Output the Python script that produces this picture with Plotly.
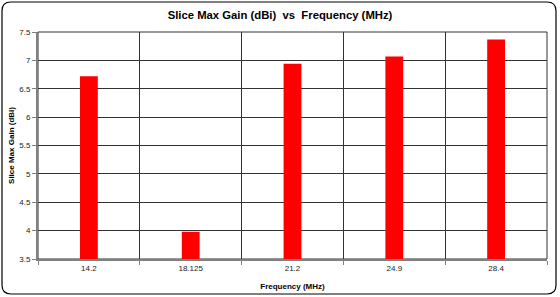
import plotly.graph_objects as go

categories = ["14.2", "18.125", "21.2", "24.9", "28.4"]
gain_dbi = [6.72, 3.98, 6.94, 7.07, 7.37]
y_ticks = [3.5, 4, 4.5, 5, 5.5, 6, 6.5, 7, 7.5]

fig = go.Figure()
fig.add_trace(go.Bar(x=categories, y=gain_dbi, marker=dict(color="#FF0000", line=dict(width=0))))

# plot area in pixels: x 38..547, y 32..259
L, R, T, B = 38, 13, 32, 38
W, H = 560, 297
pw, ph = W - L - R, H - T - B
def px(x): return (x - L) / pw
def py(y): return (H - B - y) / ph
x0, x1, y0, y1 = px(2), px(556), py(294), py(2)
rx, ry = 9 / pw, 9 / ph
path = (f"M {x0+rx},{y1} L {x1-rx},{y1} Q {x1},{y1} {x1},{y1-ry} "
        f"L {x1},{y0+ry} Q {x1},{y0} {x1-rx},{y0} L {x0+rx},{y0} "
        f"Q {x0},{y0} {x0},{y0+ry} L {x0},{y1-ry} Q {x0},{y1} {x0+rx},{y1} Z")

fig.update_layout(
    width=W, height=H,
    margin=dict(l=L, r=R, t=T, b=B),
    paper_bgcolor="white", plot_bgcolor="white",
    showlegend=False,
    bargap=0.825,
    font=dict(family="Arial, Liberation Sans", size=8, color="#222222"),
    title=dict(text="<b>Slice Max Gain (dBi)  vs  Frequency (MHz)</b>", x=0.5, xanchor="center",
               y=1 - 15 / H, yanchor="middle", font=dict(size=11.3, color="black")),
    shapes=[
        dict(type="path", xref="paper", yref="paper", path=path, line=dict(color="black", width=1.2)),
        dict(type="rect", xref="paper", yref="paper", x0=0, x1=1, y0=0, y1=1,
             line=dict(color="#333333", width=1), layer="below"),
    ],
)
fig.update_xaxes(
    type="category", tickson="boundaries", showgrid=True, gridcolor="#333333", gridwidth=1,
    showline=True, linecolor="#808080", linewidth=2, automargin=False,
    ticks="outside", ticklen=4, tickcolor="#808080",
    title=dict(text="<b>Frequency (MHz)</b>", font=dict(size=8, color="black"), standoff=12),
)
fig.update_yaxes(
    range=[3.5, 7.5], tickvals=y_ticks, ticktext=[f"{v:g}" for v in y_ticks],
    showgrid=True, gridcolor="#333333", gridwidth=1, zeroline=False, automargin=False,
    showline=True, linecolor="#808080", linewidth=2,
    ticks="outside", ticklen=4, tickcolor="#808080",
    title=dict(text="<b>Slice Max Gain (dBi)</b>", font=dict(size=8, color="black"), standoff=3),
)
fig.write_html("out.html")
